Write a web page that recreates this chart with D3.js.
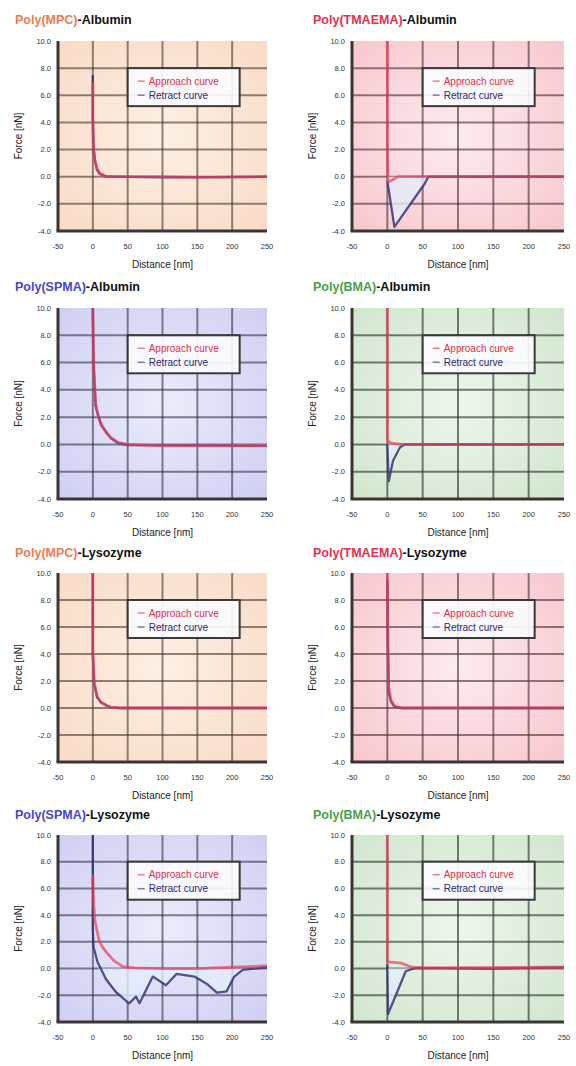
<!DOCTYPE html>
<html>
<head>
<meta charset="utf-8">
<script src="https://cdnjs.cloudflare.com/ajax/libs/d3/7.8.5/d3.min.js"></script>
<style>
body { margin: 0; background: #fff; }
svg { display: block; font-family: "Liberation Sans", Arial, sans-serif; }
</style>
</head>
<body>
<svg id="chart" width="576" height="1066"></svg>
<script>
// panel titles (polymer part is coloured, protein part black)
var polymers = ['Poly(MPC)', 'Poly(TMAEMA)', 'Poly(SPMA)', 'Poly(BMA)',
                'Poly(MPC)', 'Poly(TMAEMA)', 'Poly(SPMA)', 'Poly(BMA)'];
var proteins = ['-Albumin', '-Albumin', '-Albumin', '-Albumin',
                '-Lysozyme', '-Lysozyme', '-Lysozyme', '-Lysozyme'];
var xTicks = [-50, 0, 50, 100, 150, 200, 250];
var yTicks = [-4, -2, 0, 2, 4, 6, 8, 10];
var legendLabels = ['Approach curve', 'Retract curve'];

// [distance nm, force nN]
var approach1 = [[0, 7], [0, 4], [1, 2], [3, 1.2], [6, 0.6], [10, 0.25], [18, 0.05], [30, 0], [100, 0], [150, -0.05], [250, 0]];
var retract1  = [[0, 7.5], [0, 4.5], [1, 2.2], [3, 1.2], [6, 0.5], [10, 0.2], [20, 0], [100, -0.05], [250, 0]];

var approach2 = [[0, 10], [0, 2], [1, -0.4], [5, -0.3], [15, 0], [250, 0]];
var retract2  = [[0, -0.3], [10, -3.7], [53, -0.5], [58, 0], [250, 0]];

var approach3 = [[0, 10], [1, 6], [4, 3], [8, 2], [12, 1.5], [20, 0.8], [26, 0.5], [36, 0.15], [50, 0], [100, -0.1], [250, -0.1]];
var retract3  = [[0, 10], [1, 6], [4, 2.8], [12, 1.4], [26, 0.45], [36, 0.1], [50, -0.05], [250, -0.1]];

var approach4 = [[0, 10], [0, 0.3], [5, 0.1], [20, 0], [250, 0]];
var retract4  = [[0, 0], [2, -2.7], [8, -1.2], [18, -0.2], [25, 0], [250, 0]];

var approach5 = [[0, 10], [0, 4], [2, 1.9], [6, 0.9], [11, 0.45], [20, 0.15], [26, 0.05], [40, 0], [250, 0]];
var retract5  = [[0, 10], [0, 4], [2, 1.8], [6, 0.8], [12, 0.4], [25, 0.05], [40, 0], [250, 0]];

var approach6 = [[0, 10], [1, 4], [2, 1.5], [5, 0.6], [10, 0.15], [20, 0], [250, 0]];
var retract6  = [[0, 9.5], [1, 4], [2, 1.2], [5, 0.5], [10, 0.1], [20, 0], [250, 0]];

var approach7 = [[0, 7], [1, 5], [3, 3.6], [9, 2.1], [14, 1.6], [19, 1.25], [30, 0.6], [43, 0.15], [60, 0.05], [100, 0], [150, 0], [200, 0.1], [250, 0.2]];
var retract7  = [[0, 10], [0, 3], [1, 1.6], [7, 0.45], [19, -0.8], [33, -1.75], [52, -2.6], [62, -2.1], [67, -2.6], [86, -0.6],
                 [105, -1.25], [120, -0.4], [146, -0.6], [165, -1.2], [178, -1.8], [192, -1.7], [203, -0.6], [215, -0.1], [250, 0.1]];

var approach8 = [[0, 10], [0, 0.6], [2, 0.5], [20, 0.4], [35, 0.1], [50, 0.05], [250, 0.1]];
var retract8  = [[0, 0.3], [1, -3.4], [26, -0.2], [40, 0.05], [150, 0], [250, 0.1]];

var approachData = [approach1, approach2, approach3, approach4, approach5, approach6, approach7, approach8];
var retractData  = [retract1, retract2, retract3, retract4, retract5, retract6, retract7, retract8];

// colour themes per polymer
var themes = {
  'Poly(MPC)':    {title: '#f07a55', inner: '#fdf0e4', outer: '#f9d9c4', grid: 'rgba(70,55,50,0.6)'},
  'Poly(TMAEMA)': {title: '#e8304a', inner: '#fcecee', outer: '#f7c4cc', grid: 'rgba(70,45,50,0.6)'},
  'Poly(SPMA)':   {title: '#4646d6', inner: '#ececfb', outer: '#cdcdf3', grid: 'rgba(50,50,70,0.6)'},
  'Poly(BMA)':    {title: '#4aa04a', inner: '#eef6ec', outer: '#cfe5cc', grid: 'rgba(45,60,45,0.65)'}
};

var colLeft = [58, 352], colRight = [267, 564];
var rowTop = [41, 308, 573, 835], rowBottom = [231, 499, 762, 1022];
var titleX = [15, 313], titleY = [24, 291, 557, 819];

var svg = d3.select('#chart');
var defs = svg.append('defs');

polymers.forEach(function(poly, i) {
  var col = i % 2, row = Math.floor(i / 2);
  var th = themes[poly];

  var x = d3.scaleLinear().domain([-50, 250]).range([colLeft[col], colRight[col]]);
  var y = d3.scaleLinear().domain([-4, 10]).range([rowBottom[row], rowTop[row]]);

  var g = svg.append('g');

  var grad = defs.append('radialGradient').attr('id', 'bg' + i)
      .attr('cx', '50%').attr('cy', '50%').attr('r', '75%');
  grad.append('stop').attr('offset', '0%').attr('stop-color', th.inner);
  grad.append('stop').attr('offset', '100%').attr('stop-color', th.outer);

  g.append('rect')
    .attr('x', x(-50)).attr('y', y(10))
    .attr('width', x(250) - x(-50)).attr('height', y(-4) - y(10))
    .attr('fill', 'url(#bg' + i + ')');

  // grid
  g.selectAll('line.vg').data(xTicks.filter(function(d) { return d > -50 && d < 250; }))
    .enter().append('line')
    .attr('x1', function(d) { return x(d); }).attr('x2', function(d) { return x(d); })
    .attr('y1', y(10)).attr('y2', y(-4))
    .attr('stroke', th.grid).attr('stroke-width', 2);
  g.selectAll('line.hg').data(yTicks.filter(function(d) { return d > -4 && d < 10; }))
    .enter().append('line')
    .attr('x1', x(-50)).attr('x2', x(250))
    .attr('y1', function(d) { return y(d); }).attr('y2', function(d) { return y(d); })
    .attr('stroke', th.grid).attr('stroke-width', 2);

  // axis lines
  g.append('line').attr('x1', x(-50)).attr('x2', x(-50)).attr('y1', y(10)).attr('y2', y(-4))
    .attr('stroke', '#3a3535').attr('stroke-width', 3);
  g.append('line').attr('x1', x(-50) - 1.5).attr('x2', x(250)).attr('y1', y(-4)).attr('y2', y(-4))
    .attr('stroke', '#3a3535').attr('stroke-width', 3);

  // tick labels
  g.selectAll('text.yt').data(yTicks).enter().append('text')
    .attr('x', x(-50) - 7).attr('y', function(d) { return y(d); })
    .attr('dy', '0.35em').attr('text-anchor', 'end')
    .attr('font-size', 7.5).attr('fill', '#333')
    .text(function(d) { return d.toFixed(1); });
  g.selectAll('text.xt').data(xTicks).enter().append('text')
    .attr('x', function(d) { return x(d); }).attr('y', y(-4) + 18)
    .attr('text-anchor', 'middle')
    .attr('font-size', 7.5).attr('fill', '#333')
    .text(function(d) { return d; });

  // axis titles
  g.append('text')
    .attr('x', (x(-50) + x(250)) / 2).attr('y', y(-4) + 37)
    .attr('text-anchor', 'middle').attr('font-size', 10).attr('fill', '#222')
    .text('Distance [nm]');
  g.append('text')
    .attr('transform', 'translate(' + (x(-50) - 36) + ',' + ((y(10) + y(-4)) / 2) + ') rotate(-90)')
    .attr('text-anchor', 'middle').attr('font-size', 10).attr('fill', '#222')
    .text('Force [nN]');

  // title
  var t = g.append('text')
    .attr('x', titleX[col]).attr('y', titleY[row])
    .attr('font-size', 12.5).attr('font-weight', 'bold');
  t.append('tspan').attr('fill', th.title).text(poly);
  t.append('tspan').attr('fill', '#111').text(proteins[i]);

  // adhesion area under retract curve
  var area = d3.area()
    .x(function(d) { return x(d[0]); })
    .y0(y(0))
    .y1(function(d) { return y(Math.min(d[1], 0)); });
  g.append('path').datum(retractData[i])
    .attr('d', area)
    .attr('fill', '#e4ecfa').attr('fill-opacity', 0.8);

  var line = d3.line()
    .x(function(d) { return x(d[0]); })
    .y(function(d) { return y(d[1]); });

  g.append('path').datum(retractData[i])
    .attr('d', line)
    .attr('fill', 'none').attr('stroke', '#2c2c70').attr('stroke-width', 2.3)
    .attr('stroke-opacity', 0.8).attr('stroke-linejoin', 'round');
  g.append('path').datum(approachData[i])
    .attr('d', line)
    .attr('fill', 'none').attr('stroke', '#e8405c').attr('stroke-width', 2.8)
    .attr('stroke-opacity', 0.7).attr('stroke-linejoin', 'round');

  // legend
  var lx = x(50), ly = y(8);
  var leg = g.append('g').attr('transform', 'translate(' + lx + ',' + ly + ')');
  leg.append('rect')
    .attr('width', 112).attr('height', 38)
    .attr('fill', '#fbfbfd').attr('fill-opacity', 0.92)
    .attr('stroke', '#3a3838').attr('stroke-width', 2);
  leg.selectAll('g.item').data(legendLabels).enter().append('g')
    .attr('transform', function(d, k) { return 'translate(0,' + (13 + k * 14) + ')'; })
    .each(function(d, k) {
      var c = k === 0 ? '#e03048' : '#2a2a78';
      d3.select(this).append('line')
        .attr('x1', 10).attr('x2', 17).attr('y1', 0).attr('y2', 0)
        .attr('stroke', c).attr('stroke-width', 1.5).attr('stroke-opacity', 0.6);
      d3.select(this).append('text')
        .attr('x', 21).attr('dy', '0.35em')
        .attr('font-size', 10).attr('fill', c)
        .text(d);
    });
});
</script>
</body>
</html>
